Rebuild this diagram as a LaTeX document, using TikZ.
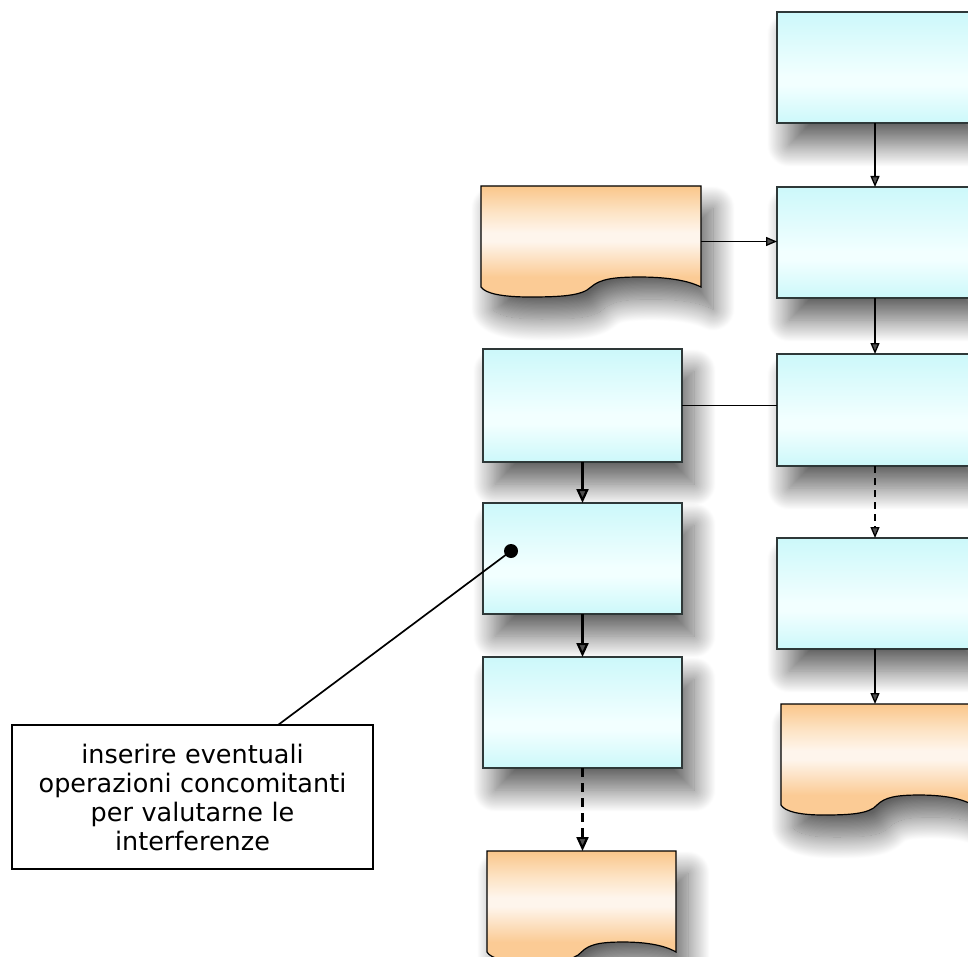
\documentclass[tikz,border=0pt]{standalone}
\usepackage{fontspec}
\newfontfamily\calloutfont{DejaVu Sans}
\usetikzlibrary{arrows.meta,calc,shadows.blur}

% fill colours
\definecolor{cyanE}{HTML}{CCF8FA}
\definecolor{cyanL}{HTML}{F2FFFF}
\definecolor{orangeT}{HTML}{FAC68A}
\definecolor{orangeM}{HTML}{FDE4C6}
\definecolor{orangeL}{HTML}{FEF5EC}
\definecolor{orangeB}{HTML}{FBCB95}
\definecolor{boxedge}{HTML}{2E3838}

% vertical fills (the path spans 25bp..75bp of the shading)
\pgfdeclareverticalshading{cyanshade}{100bp}{color(0bp)=(cyanE); color(25bp)=(cyanE);
  color(42bp)=(cyanL); color(46bp)=(cyanL); color(75bp)=(cyanE); color(100bp)=(cyanE)}
\pgfdeclareverticalshading{orangeshade}{100bp}{color(0bp)=(orangeB); color(25bp)=(orangeB);
  color(34bp)=(orangeB); color(50bp)=(orangeL); color(54bp)=(orangeL); color(63bp)=(orangeM);
  color(75bp)=(orangeT); color(100bp)=(orangeT)}

\tikzset{
  softshadow/.style={blur shadow={shadow xshift=12pt, shadow yshift=-22pt,
      shadow blur radius=22pt, shadow blur steps=40, shadow opacity=62}},
  stepbox/.style={draw=boxedge, line width=1.2pt, shade, shading=cyanshade, softshadow,
      inner sep=0pt, outer sep=0pt, anchor=north west},
  docframe/.style={draw=none, inner sep=0pt, outer sep=0pt, anchor=north west},
  docfill/.style={draw=black, line width=1.2pt, shade, shading=orangeshade, softshadow},
  flow/.style={line width=1.3pt, -{Triangle[length=11pt,width=9pt]}},
  flowthick/.style={line width=2.2pt, -{Triangle[length=14pt,width=12pt]}},
  link/.style={line width=1.7pt},
  notebox/.style={draw=black, line width=2pt, fill=white, inner sep=0pt, outer sep=0pt,
      anchor=north west, align=center, font=\calloutfont\fontsize{25.5}{29}\selectfont},
}

% document symbol with a wavy lower edge, drawn over the frame node #1
\newcommand\docshape[1]{%
  \path[docfill] let \p1=(#1.north west), \p2=(#1.south east),
      \n1={\x2-\x1}, \n2={\y2-\y1} in
    (\x1,\y1) -- (\x2,\y1) -- (\x2,\y1+0.91*\n2)
    .. controls (\x1+0.93*\n1,\y1+0.84*\n2) and (\x1+0.82*\n1,\y1+0.82*\n2) .. (\x1+0.72*\n1,\y1+0.82*\n2)
    .. controls (\x1+0.60*\n1,\y1+0.82*\n2) and (\x1+0.54*\n1,\y1+0.84*\n2) .. (\x1+0.50*\n1,\y1+0.91*\n2)
    .. controls (\x1+0.46*\n1,\y1+0.99*\n2) and (\x1+0.36*\n1,\y1+\n2) .. (\x1+0.22*\n1,\y1+\n2)
    .. controls (\x1+0.10*\n1,\y1+\n2) and (\x1+0.02*\n1,\y1+0.97*\n2) .. (\x1,\y1+0.91*\n2)
    -- cycle;
}

\begin{document}
\begin{tikzpicture}[x=1pt, y=-1pt]
\useasboundingbox (0,0) rectangle (968,957);
\clip (0,0) rectangle (968,957);

% right column
\node[stepbox, minimum width=196pt, minimum height=111pt] (r1) at (777,12) {};
\node[stepbox, minimum width=196pt, minimum height=111pt] (r2) at (777,187) {};
\node[stepbox, minimum width=196pt, minimum height=112pt] (r3) at (777,354) {};
\node[stepbox, minimum width=196pt, minimum height=111pt] (r4) at (777,538) {};
\node[docframe, minimum width=192pt, minimum height=111pt] (r5) at (781,704) {};
\docshape{r5}

% left column
\node[docframe, minimum width=220pt, minimum height=111pt] (d1) at (481,186) {};
\docshape{d1}
\node[stepbox, minimum width=199pt, minimum height=113pt] (l1) at (483,349) {};
\node[stepbox, minimum width=199pt, minimum height=111pt] (l2) at (483,503) {};
\node[stepbox, minimum width=199pt, minimum height=111pt] (l3) at (483,657) {};
\node[docframe, minimum width=189pt, minimum height=111pt] (d2) at (487,851) {};
\docshape{d2}

% connectors
\draw[flow] (r1.south) -- (r2.north);
\draw[flow] (d1.east) -- (d1.east -| r2.west);
\draw[flow] (r2.south) -- (r3.north);
\draw[link] (l1.east) -- (l1.east -| r3.west);
\draw[flow, dash pattern=on 7pt off 5pt] (r3.south) -- (r4.north);
\draw[flow] (r4.south) -- (r4.south |- r5.north);
\draw[flowthick] (l1.south) -- (l2.north);
\draw[flowthick] (l2.south) -- (l3.north);
\draw[flowthick, dash pattern=on 9pt off 6pt] (l3.south) -- (l3.south |- d2.north);

% note with its pointer
\node[notebox, minimum width=361pt, minimum height=144pt, text width=345pt] (note) at (12,725)
  {inserire eventuali\\operazioni concomitanti\\per valutarne le\\interferenze};
\node[circle, fill=black, minimum size=14pt, inner sep=0pt] (dot) at (511,551) {};
\coordinate (tail) at (278,725);
\draw[link] (tail) -- (dot.center);
\end{tikzpicture}
\end{document}
